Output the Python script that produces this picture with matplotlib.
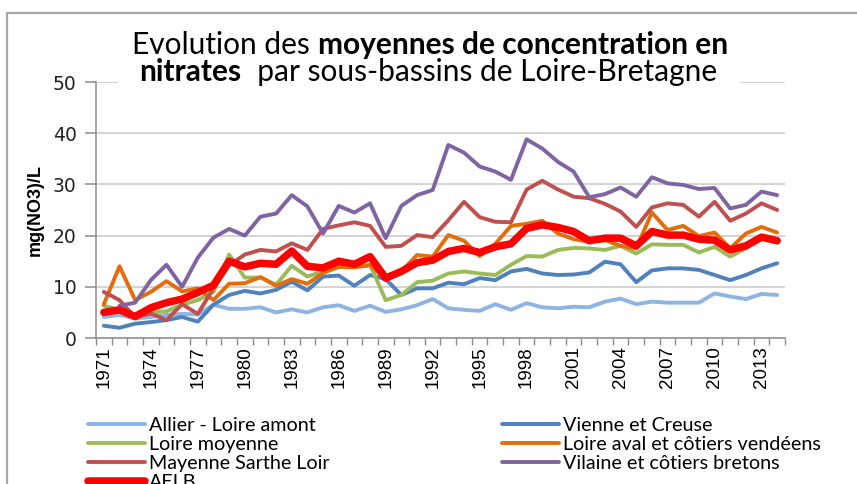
import numpy as np
import matplotlib
matplotlib.use('Agg')
import matplotlib.pyplot as plt
from matplotlib.patches import Rectangle

# annual mean nitrate concentration, mg(NO3)/L, 1971-2014
years = list(range(1971, 2015))

allier = [4.1, 4.5, 3.8, 4.1, 4.5, 4.7, 4.6, 6.5, 5.7, 5.7, 6.0, 5.0, 5.6, 5.0, 6.0,
          6.4, 5.3, 6.3, 5.1, 5.6, 6.4, 7.6, 5.8, 5.5, 5.3, 6.6, 5.5, 6.8, 6.0, 5.8,
          6.1, 6.0, 7.1, 7.7, 6.6, 7.1, 6.9, 6.9, 6.9, 8.7, 8.1, 7.6, 8.6, 8.4]
vienne = [2.4, 2.0, 2.8, 3.1, 3.5, 4.1, 3.2, 6.5, 8.4, 9.2, 8.7, 9.4, 11.0, 9.3, 12.0,
          12.2, 10.2, 12.3, 11.5, 8.4, 9.7, 9.7, 10.8, 10.5, 11.7, 11.3, 13.0, 13.5, 12.6, 12.3,
          12.4, 12.8, 14.9, 14.4, 10.9, 13.2, 13.6, 13.6, 13.3, 12.3, 11.3, 12.3, 13.6, 14.6]
loire_moy = [6.3, 5.5, 4.5, 5.0, 5.2, 6.5, 7.4, 9.0, 16.3, 11.8, 11.8, 10.4, 14.1, 12.0, 13.0,
             13.9, 13.9, 14.3, 7.4, 8.4, 10.9, 11.2, 12.6, 13.0, 12.6, 12.3, 14.3, 16.0, 15.9, 17.2,
             17.6, 17.5, 17.2, 18.0, 16.5, 18.3, 18.2, 18.2, 16.7, 17.8, 15.9, 17.5, 19.7, 18.6]
loire_aval = [6.6, 14.0, 7.4, 9.0, 11.1, 9.1, 9.7, 7.4, 10.6, 10.7, 11.9, 10.2, 11.5, 10.6, 12.7,
              13.9, 13.8, 14.2, 11.5, 13.0, 16.2, 15.9, 20.1, 19.0, 16.0, 18.4, 21.9, 22.3, 22.9, 20.4,
              19.3, 18.8, 19.1, 18.0, 17.5, 24.5, 21.1, 21.9, 19.9, 20.6, 17.5, 20.4, 21.7, 20.6]
mayenne = [9.0, 7.4, 4.0, 4.8, 3.5, 6.6, 4.7, 9.7, 14.2, 16.3, 17.2, 16.9, 18.5, 17.2, 21.3,
           22.0, 22.6, 21.9, 17.8, 18.0, 20.1, 19.7, 23.0, 26.6, 23.6, 22.7, 22.6, 29.0, 30.7, 29.0,
           27.6, 27.3, 26.2, 24.7, 21.7, 25.5, 26.3, 26.0, 23.7, 26.6, 22.9, 24.3, 26.3, 25.0]
vilaine = [np.nan, 6.3, 6.9, 11.3, 14.3, 10.0, 15.7, 19.6, 21.3, 20.0, 23.7, 24.3, 27.9, 25.7, 20.4,
           25.8, 24.5, 26.3, 19.5, 25.8, 27.9, 28.9, 37.7, 36.2, 33.5, 32.5, 30.9, 38.8, 37.0, 34.4,
           32.5, 27.5, 28.1, 29.4, 27.6, 31.4, 30.2, 29.9, 29.1, 29.3, 25.3, 26.0, 28.6, 27.9]
aelb = [5.0, 5.5, 4.2, 5.9, 6.9, 7.6, 8.9, 10.3, 15.0, 13.9, 14.6, 14.4, 17.0, 14.0, 13.7,
        15.0, 14.4, 15.9, 11.7, 13.0, 14.7, 15.2, 16.9, 17.5, 16.7, 17.8, 18.4, 21.4, 22.1, 21.6,
        20.8, 19.0, 19.5, 19.5, 18.0, 20.8, 20.1, 20.1, 19.3, 19.1, 17.2, 18.0, 19.7, 19.0]

series = [
    ("Allier - Loire amont", allier, "#8DB4E2", 2.8),
    ("Vienne et Creuse", vienne, "#4F81BD", 2.8),
    ("Loire moyenne", loire_moy, "#9BBB59", 2.8),
    ("Loire aval et côtiers vendéens", loire_aval, "#E46C0A", 2.8),
    ("Mayenne Sarthe Loir", mayenne, "#C0504D", 2.8),
    ("Vilaine et côtiers bretons", vilaine, "#8064A2", 2.8),
    ("AELB", aelb, "#FF0000", 5.4),
]

W, H = 857, 484
fig = plt.figure(figsize=(W / 100, H / 100), dpi=100)
fig.patch.set_facecolor('white')

ax = fig.add_axes([96 / W, 1 - 338 / H, (785 - 96) / W, (338 - 82) / H])
x = np.arange(len(years))
handles = {}
for k, (name, vals, col, lw) in enumerate(series):
    h, = ax.plot(x, vals, color=col, lw=lw, solid_joinstyle='round',
                 solid_capstyle='round', zorder=3 + k, label=name)
    handles[name] = h

ax.set_xlim(-0.5, len(years) - 0.5)
ax.set_ylim(0, 50)
ax.set_yticks(range(0, 51, 10))
ax.yaxis.grid(True, color='#C8C8C8', lw=1.1)
ax.set_axisbelow(True)
for s in ['top', 'right']:
    ax.spines[s].set_visible(False)
for s in ['left', 'bottom']:
    ax.spines[s].set_color('#8C8C8C')
    ax.spines[s].set_linewidth(1.1)

ax.tick_params(axis='y', length=8, width=1.1, color='#8C8C8C', pad=6,
               labelsize=13.5, labelcolor='#222222')
for lab in ax.get_yticklabels():
    lab.set_fontfamily('DejaVu Sans')

ax.set_xticks(x[::3])
ax.set_xticklabels([str(y) for y in years[::3]], rotation=90,
                   fontfamily='Liberation Sans', fontsize=13.5)
ax.set_xticks(np.arange(-0.5, len(years), 1), minor=True)
ax.tick_params(axis='x', which='major', length=0, pad=6)
ax.tick_params(axis='x', which='minor', length=5, width=1, color='#8C8C8C')

fig.text(35 / W, 1 - 210 / H, "mg(NO3)/L", rotation=90, ha='center', va='center',
         fontfamily='Liberation Sans', fontweight='bold', fontsize=13)

# outer chart frame
fig.patches.append(Rectangle((7 / W, -0.1), 1.2, 1 - 13 / H + 0.1, transform=fig.transFigure,
                             fill=False, edgecolor='#A6A6A6', lw=1.6, zorder=1))
# title background hides the top gridline
fig.patches.append(Rectangle((118 / W, 1 - 88 / H), (740 - 118) / W, 60 / H,
                             transform=fig.transFigure, facecolor='white',
                             edgecolor='none', zorder=2))

renderer = fig.canvas.get_renderer()


def mixed_line(parts, xc, yc, size):
    txts = []
    for s, w in parts:
        t = fig.text(0, yc, s, fontfamily='Lato', fontweight=w, fontsize=size,
                     va='center', ha='left', zorder=5)
        txts.append(t)
    widths = [t.get_window_extent(renderer).width for t in txts]
    x0 = xc - sum(widths) / 2
    for t, w in zip(txts, widths):
        t.set_x(x0 / W)
        x0 += w


mixed_line([("Evolution des ", 'normal'), ("moyennes de concentration en", 'bold')],
           430, 1 - 45 / H, 21.5)
mixed_line([("nitrates", 'bold'), ("  par sous-bassins de Loire-Bretagne", 'normal')],
           428, 1 - 72 / H, 21.5)

leg_kw = dict(loc='upper left', bbox_transform=fig.transFigure, frameon=False,
              handlelength=2.9, handletextpad=0.2, labelspacing=0.1, borderpad=0,
              borderaxespad=0, prop={'family': 'Lato', 'size': 14.2})
col1 = [handles[n] for n in ["Allier - Loire amont", "Loire moyenne",
                             "Mayenne Sarthe Loir", "AELB"]]
col2 = [handles[n] for n in ["Vienne et Creuse", "Loire aval et côtiers vendéens",
                             "Vilaine et côtiers bretons"]]
leg1 = fig.legend(handles=col1, bbox_to_anchor=(88 / W, 1 - 417 / H), **leg_kw)
leg2 = fig.legend(handles=col2, bbox_to_anchor=(502 / W, 1 - 417 / H), **leg_kw)

fig.savefig('out.png', dpi=100)
